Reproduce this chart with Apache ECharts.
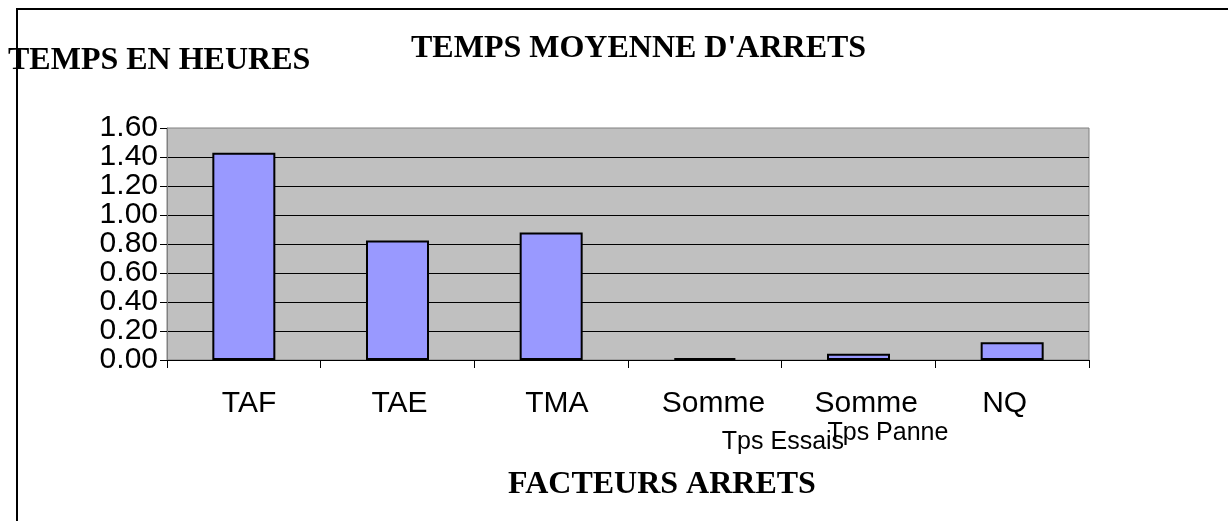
<!DOCTYPE html>
<html>
<head>
<meta charset="utf-8">
<script src="https://cdn.jsdelivr.net/npm/echarts@6/dist/echarts.min.js"></script>
<style>
  html, body { margin: 0; padding: 0; background: #ffffff; }
  #chart { width: 1228px; height: 521px; }
</style>
</head>
<body>
<div id="chart"></div>
<script>
// Average stop time per factor (hours)
const categories = ['TAF', 'TAE', 'TMA', 'Somme Tps Essais', 'Somme Tps Panne', 'NQ'];
const hours = [1.43, 0.825, 0.88, 0.013, 0.043, 0.122];
const yTicks = [0, 0.2, 0.4, 0.6, 0.8, 1.0, 1.2, 1.4, 1.6];

const Y_MIN = yTicks[0];
const Y_MAX = yTicks[yTicks.length - 1];

// Label layout: each label line is a left-aligned token inside a fixed-width block,
// shifted by a left padding (px from the block's left edge).
const LABEL_BLOCK = 320;
const labelLines = {
  'TAF': [{ text: 'TAF', pad: 138 }],
  'TAE': [{ text: 'TAE', pad: 134 }],
  'TMA': [{ text: 'TMA', pad: 134 }],
  'Somme Tps Essais': [{ text: 'Somme', pad: 117 }, { text: 'Tps Essais', pad: 177, lh: 46, size: 25 }],
  'Somme Tps Panne': [{ text: 'Somme', pad: 116 }, { text: 'Tps Panne', pad: 129, lh: 28, size: 25 }],
  'NQ': [{ text: 'NQ', pad: 130 }]
};

const rich = {};
const labelText = {};
categories.forEach((c, ci) => {
  const parts = [];
  labelLines[c].forEach((ln, li) => {
    const key = 'c' + ci + 'l' + li;
    rich[key] = {
      align: 'left',
      width: LABEL_BLOCK - ln.pad,
      padding: [0, 0, 0, ln.pad],
      lineHeight: ln.lh || 30,
      fontSize: ln.size || 30,
      fontFamily: 'Liberation Sans',
      color: '#000'
    };
    parts.push('{' + key + '|' + ln.text + '}');
  });
  labelText[c] = parts.join('\n');
});

const valueLabel = { fontSize: 30, fontFamily: 'Liberation Sans', color: '#000', margin: 9 };
const isEnd = v => Math.abs(v - Y_MIN) < 1e-9 || Math.abs(v - Y_MAX) < 1e-9;

const serifTitle = { fontFamily: 'Liberation Serif', fontWeight: 'bold', fontSize: 32, color: '#000' };

const chart = echarts.init(document.getElementById('chart'), null, { renderer: 'canvas' });
chart.setOption({
  animation: false,
  backgroundColor: '#ffffff',
  title: [
    { text: "TEMPS MOYENNE D'ARRETS", left: 411, top: 33, padding: 0, textStyle: serifTitle },
    { text: 'TEMPS EN HEURES', left: 8, top: 45, padding: 0, textStyle: serifTitle },
    { text: 'FACTEURS ARRETS', left: 508, top: 469, padding: 0, textStyle: serifTitle }
  ],
  graphic: [{
    type: 'polyline',
    shape: { points: [[17, 521], [17, 9], [1228, 9]] },
    style: { stroke: '#000', lineWidth: 2, fill: null },
    silent: true,
    z: 100
  }],
  grid: {
    left: 167, right: 139, top: 128, bottom: 161,
    show: true, backgroundColor: '#C0C0C0', borderColor: '#808080', borderWidth: 1
  },
  xAxis: {
    type: 'category',
    data: categories,
    boundaryGap: true,
    axisLine: { lineStyle: { color: '#000', width: 1 } },
    axisTick: { show: true, length: 8, lineStyle: { color: '#000' } },
    axisLabel: {
      interval: 0,
      margin: 29,
      formatter: v => labelText[v],
      rich: rich
    },
    splitLine: { show: false }
  },
  yAxis: [
    {
      // main value axis: inner tick labels, ticks and gridlines
      type: 'value',
      min: Y_MIN,
      max: Y_MAX,
      interval: 0.2,
      axisLine: { show: true, lineStyle: { color: '#808080' } },
      axisTick: { show: true, length: 7, lineStyle: { color: '#000' } },
      axisLabel: Object.assign({}, valueLabel, {
        formatter: v => (isEnd(v) ? '' : v.toFixed(2))
      }),
      splitLine: { show: true, showMinLine: false, showMaxLine: false, lineStyle: { color: '#000', width: 1 } }
    },
    {
      // same scale, only carries the end labels (0.00 and 1.60)
      type: 'value',
      position: 'left',
      min: Y_MIN,
      max: Y_MAX,
      interval: 0.2,
      axisLine: { show: false },
      axisTick: { show: false },
      splitLine: { show: false },
      axisLabel: Object.assign({}, valueLabel, {
        showMinLabel: true,
        showMaxLabel: true,
        formatter: v => (isEnd(v) ? v.toFixed(2) : '')
      })
    }
  ],
  series: [{
    type: 'bar',
    yAxisIndex: 0,
    data: hours,
    barWidth: '41%',
    itemStyle: { color: '#9999FF', borderColor: '#000', borderWidth: 2 }
  }]
});
</script>
</body>
</html>
